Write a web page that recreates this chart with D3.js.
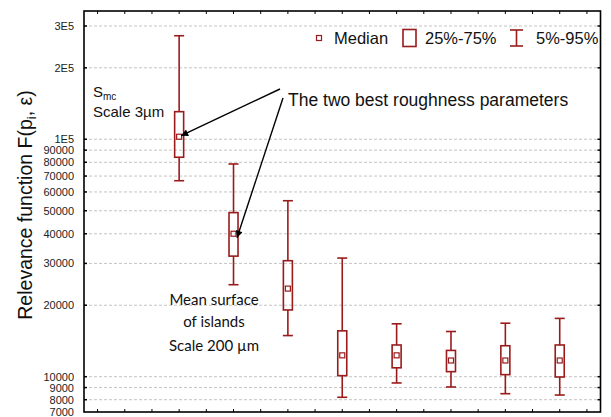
<!DOCTYPE html>
<html><head><meta charset="utf-8">
<script src="https://cdn.jsdelivr.net/npm/d3@7"></script>
<style>body{margin:0;background:#fff}svg{display:block}</style>
</head><body>
<script>
const categories = ["P1","P2","P3","P4","P5","P6","P7","P8"];
const whiskerLow = [66900, 24400, 14900, 8190, 9410, 9050, 8480, 8370];
const q1 = [84000, 32200, 19100, 10100, 10900, 10500, 10200, 9970];
const median = [102500, 40000, 23500, 12300, 12300, 11700, 11700, 11700];
const q3 = [130700, 49100, 30800, 15600, 13600, 12900, 13500, 13600];
const whiskerHigh = [273000, 78700, 55100, 31600, 16700, 15500, 16800, 17600];
const yTickValues = [7000, 8000, 9000, 10000, 20000, 30000, 40000, 50000, 60000, 70000, 80000, 90000, 100000, 200000, 300000];
const yTickLabels = ["7000","8000","9000","10000","20000","30000","40000","50000","60000","70000","80000","90000","1E5","2E5","3E5"];
const legendLabels = ["Median", "25%-75%", "5%-95%"];

const W = 611, H = 417;
const L = 84, R = 600.5, T = 11, B = 412;
const red = "#9a1b1b";
const svg = d3.select("body").append("svg").attr("width", W).attr("height", H);

const x = d3.scaleLinear().domain([0, 19]).range([L, R]);
const y = d3.scaleLog().domain([7100, 347000]).range([B, T]);
const xPos = i => x(3.5 + 2 * i);

// grid
svg.append("g").selectAll("line").data(yTickValues.filter(v => v >= 7100)).join("line")
  .attr("x1", L).attr("x2", R).attr("y1", d => y(d)).attr("y2", d => y(d))
  .attr("stroke", "#c4c4c4").attr("stroke-width", 1).attr("stroke-dasharray", "3,2");

// y labels
svg.append("g").selectAll("text").data(yTickValues).join("text")
  .attr("x", 74).attr("y", d => Math.min(y(d) + 4, 416)).attr("text-anchor", "end")
  .attr("font-family", "Liberation Sans, Arial, sans-serif").attr("font-size", 11).attr("fill", "#222")
  .text((d, i) => yTickLabels[i]);

// inner ticks left & right
const inner = yTickValues.filter(v => v >= 7100);
svg.append("g").selectAll("line").data(inner).join("line")
  .attr("x1", L).attr("x2", L + 3).attr("y1", d => y(d)).attr("y2", d => y(d)).attr("stroke", "#000").attr("stroke-width", 1.5);
svg.append("g").selectAll("line").data(inner).join("line")
  .attr("x1", R - 3).attr("x2", R).attr("y1", d => y(d)).attr("y2", d => y(d)).attr("stroke", "#000").attr("stroke-width", 1.5);
// top/bottom ticks
const xt = d3.range(19).map(k => k + 0.5);
svg.append("g").selectAll("line").data(xt).join("line")
  .attr("x1", d => x(d)).attr("x2", d => x(d)).attr("y1", B).attr("y2", B - 3).attr("stroke", "#000").attr("stroke-width", 1);
svg.append("g").selectAll("line").data(xt).join("line")
  .attr("x1", d => x(d)).attr("x2", d => x(d)).attr("y1", T).attr("y2", T + 3).attr("stroke", "#000").attr("stroke-width", 1);

// boxes
const g = svg.append("g").attr("stroke", red).attr("fill", "none").attr("stroke-width", 1.6);
const bw = 9, cw = 5, ms = 5;
categories.forEach((c, i) => {
  const cx = xPos(i);
  g.append("line").attr("x1", cx).attr("x2", cx).attr("y1", y(whiskerHigh[i])).attr("y2", y(q3[i]));
  g.append("line").attr("x1", cx).attr("x2", cx).attr("y1", y(q1[i])).attr("y2", y(whiskerLow[i]));
  g.append("line").attr("x1", cx - cw).attr("x2", cx + cw).attr("y1", y(whiskerHigh[i])).attr("y2", y(whiskerHigh[i]));
  g.append("line").attr("x1", cx - cw).attr("x2", cx + cw).attr("y1", y(whiskerLow[i])).attr("y2", y(whiskerLow[i]));
  g.append("rect").attr("x", cx - bw / 2).attr("width", bw).attr("y", y(q3[i])).attr("height", y(q1[i]) - y(q3[i]));
  g.append("rect").attr("x", cx - ms / 2).attr("width", ms).attr("y", y(median[i]) - ms / 2).attr("height", ms).attr("stroke-width", 1.2);
});

// frame
svg.append("rect").attr("x", L).attr("y", T).attr("width", R - L).attr("height", B - T)
  .attr("fill", "none").attr("stroke", "#000").attr("stroke-width", 1.6);

// legend
const lf = "Liberation Sans, Arial, sans-serif";
const ly = 38;
const lg = svg.append("g");
lg.append("rect").attr("x", 316.5).attr("y", ly - 2.5).attr("width", 5).attr("height", 5).attr("fill", "none").attr("stroke", red).attr("stroke-width", 1.2);
lg.append("text").attr("x", 334).attr("y", ly).attr("dy", "0.36em").attr("font-family", lf).attr("font-size", 16.5).attr("fill", "#111").text(legendLabels[0]);
lg.append("rect").attr("x", 403).attr("y", ly - 8.5).attr("width", 13).attr("height", 17).attr("fill", "none").attr("stroke", red).attr("stroke-width", 1.6);
lg.append("text").attr("x", 425).attr("y", ly).attr("dy", "0.36em").attr("font-family", lf).attr("font-size", 16.5).attr("fill", "#111").text(legendLabels[1]);
const ix = 516.5;
lg.append("line").attr("x1", ix).attr("x2", ix).attr("y1", ly - 8).attr("y2", ly + 8).attr("stroke", red).attr("stroke-width", 1.6);
lg.append("line").attr("x1", ix - 6.5).attr("x2", ix + 6.5).attr("y1", ly - 8).attr("y2", ly - 8).attr("stroke", red).attr("stroke-width", 1.6);
lg.append("line").attr("x1", ix - 6.5).attr("x2", ix + 6.5).attr("y1", ly + 8).attr("y2", ly + 8).attr("stroke", red).attr("stroke-width", 1.6);
lg.append("text").attr("x", 536).attr("y", ly).attr("dy", "0.36em").attr("font-family", lf).attr("font-size", 16.5).attr("fill", "#111").text(legendLabels[2]);

// annotations
svg.append("defs").append("marker").attr("id", "ah").attr("viewBox", "0 0 10 10").attr("refX", 10).attr("refY", 5)
  .attr("markerWidth", 9).attr("markerHeight", 7).attr("orient", "auto").attr("markerUnits", "userSpaceOnUse")
  .append("path").attr("d", "M0,0 L10,5 L0,10 Z").attr("fill", "#000");
svg.append("line").attr("x1", 280).attr("y1", 89).attr("x2", xPos(0) + 2).attr("y2", y(median[0]) - 1)
  .attr("stroke", "#000").attr("stroke-width", 1.4).attr("marker-end", "url(#ah)");
svg.append("line").attr("x1", 283).attr("y1", 98).attr("x2", xPos(1) + 3.5).attr("y2", y(median[1]) + 4)
  .attr("stroke", "#000").attr("stroke-width", 1.4).attr("marker-end", "url(#ah)");
svg.append("text").attr("x", 288).attr("y", 106).attr("font-family", lf).attr("font-size", 17.5).attr("fill", "#111")
  .text("The two best roughness parameters");

const s = svg.append("text").attr("x", 93).attr("y", 97).attr("font-family", lf).attr("font-size", 15).attr("fill", "#111");
s.append("tspan").text("S");
s.append("tspan").attr("font-size", 10).attr("dy", 3).text("mc");
svg.append("text").attr("x", 93).attr("y", 117).attr("font-family", lf).attr("font-size", 15).attr("fill", "#111").text("Scale 3µm");

const mf = "Lato, Open Sans, sans-serif";
["Mean surface", "of islands", "Scale 200 µm"].forEach((t, i) => {
  svg.append("text").attr("x", 214).attr("y", [305, 327, 351][i]).attr("text-anchor", "middle")
    .attr("font-family", mf).attr("font-size", 15).attr("fill", "#111").text(t);
});

// y label
const yl = svg.append("text").attr("transform", "translate(32,205) rotate(-90)").attr("text-anchor", "middle")
  .attr("font-family", lf).attr("font-size", 19.5).attr("fill", "#111");
yl.append("tspan").text("Relevance function F(p");
yl.append("tspan").attr("font-size", 13).attr("dy", 4).text("i");
yl.append("tspan").attr("dy", -4).text(", ε)");
</script>
</body></html>
